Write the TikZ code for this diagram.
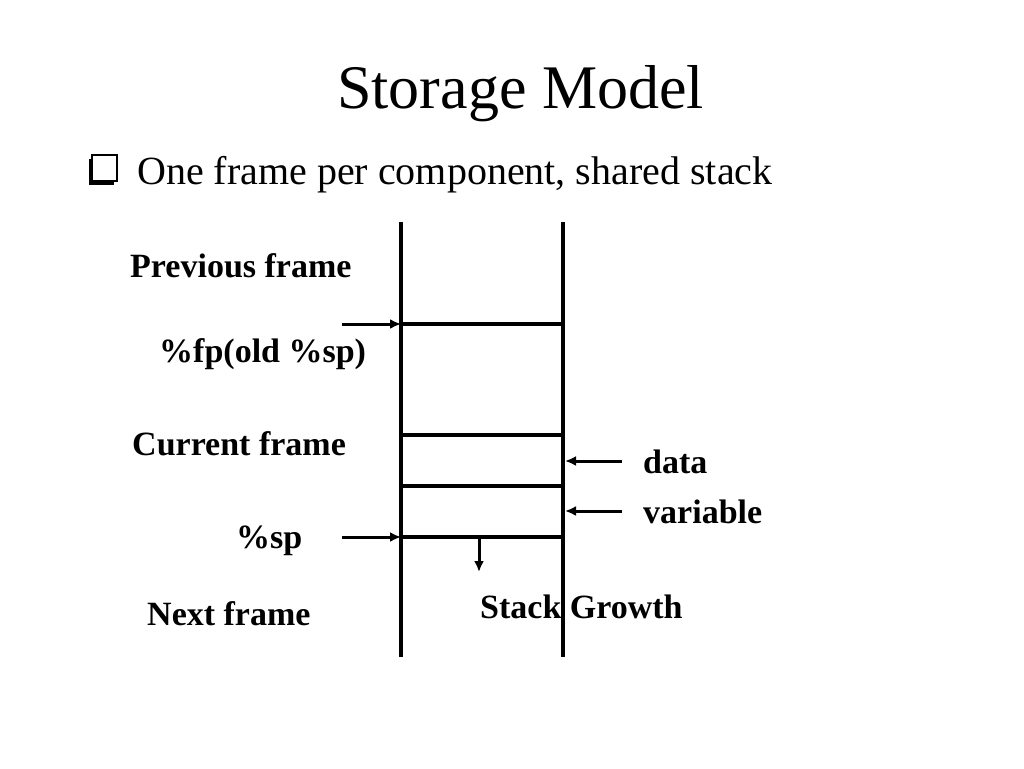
\documentclass[tikz,border=0pt]{standalone}
\usepackage{fontspec}
\setmainfont{Liberation Serif}
\usetikzlibrary{arrows.meta}

\begin{document}
\begin{tikzpicture}[x=1pt,y=-1pt,
  lbl/.style={font=\fontsize{34}{40}\selectfont\bfseries,inner sep=0pt,anchor=base west},
  wall/.style={line width=3.2pt},
  ptr/.style={line width=3pt,-{Latex[length=11pt,width=10pt]}}]
\useasboundingbox (0,0) rectangle (1024,768);
\node[inner sep=0pt,anchor=base west,font=\fontsize{62}{70}\selectfont] (title) at (337,108) {Storage Model};
\fill (88.5,158.5) rectangle (113.5,184.5);
\draw[fill=white,line width=1.6pt] (92,155) rectangle (117,181);
\node[inner sep=0pt,anchor=base west,font=\fontsize{40}{46}\selectfont] (point) at (137,184) {One frame per component, shared stack};
\coordinate (lt) at (401,222);
\coordinate (lb) at (401,657);
\coordinate (rt) at (563,222);
\coordinate (rb) at (563,657);
\draw[wall] (lt) -- (lb);
\draw[wall] (rt) -- (rb);
\foreach \y/\n in {324/fp, 435/cf, 486/dv, 537/sp}
  {
  \coordinate (\n l) at (401,\y);
  \coordinate (\n r) at (563,\y);
  \draw[wall] (\n l) -- (\n r);
  }
\node[lbl] (prev) at (130,277) {Previous frame};
\node[lbl] (fp) at (159,362) {\%fp(old \%sp)};
\node[lbl] (cur) at (132,455) {Current frame};
\node[lbl] (sp) at (236,548) {\%sp};
\node[lbl] (next) at (147,625) {Next frame};
\node[lbl] (data) at (643,473) {data};
\node[lbl] (var) at (643,523) {variable};
\node[lbl] (grow) at (480,618) {Stack Growth};
\coordinate (fpa) at (342,324);
\coordinate (spa) at (342,537);
\coordinate (da) at (622,461);
\coordinate (dh) at (565,461);
\coordinate (va) at (622,511);
\coordinate (vh) at (565,511);
\coordinate (ga) at (479,537);
\coordinate (gh) at (479,572);
\draw[ptr] (fpa) -- (fpl);
\draw[ptr] (spa) -- (spl);
\draw[ptr] (da) -- (dh);
\draw[ptr] (va) -- (vh);
\draw[ptr] (ga) -- (gh);
\end{tikzpicture}
\end{document}
